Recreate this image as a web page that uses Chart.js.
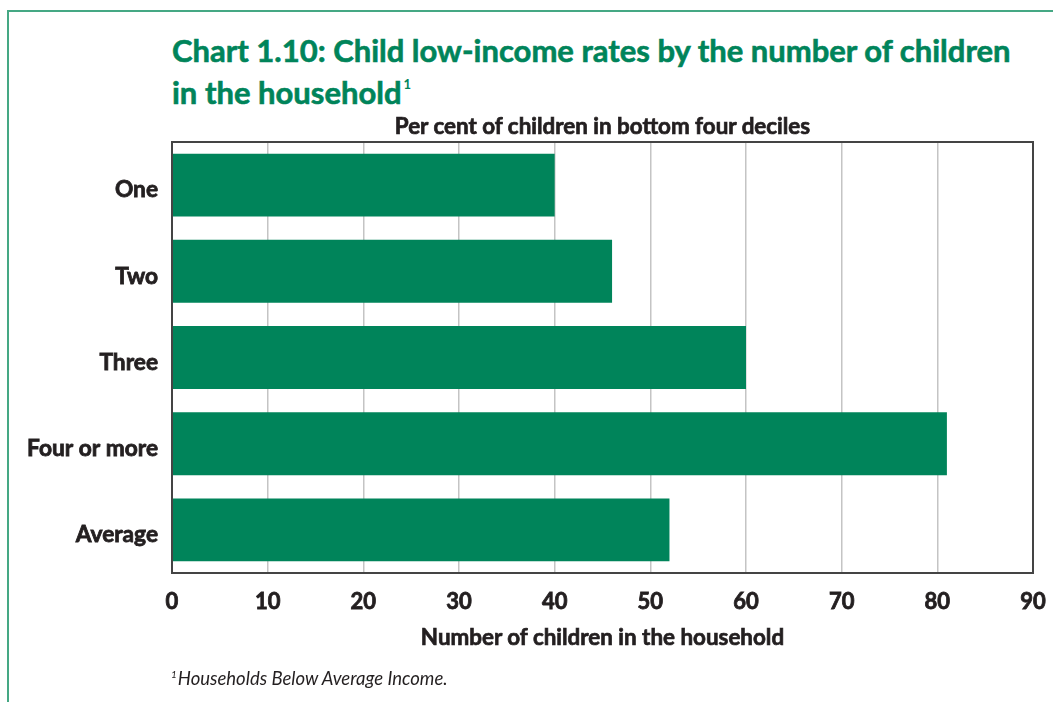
<!DOCTYPE html>
<html>
<head>
<meta charset="utf-8">
<script src="https://cdn.jsdelivr.net/npm/chart.js@4"></script>
<style>
  html, body { margin: 0; padding: 0; background: #ffffff; }
  #page { position: relative; width: 1053px; height: 702px; overflow: hidden; background: #fff; }
  #frame { position: absolute; left: 7px; top: 10px; width: 1100px; height: 760px;
           border-left: 2px solid #45a884; border-top: 2px solid #45a884; }
  .txt { position: absolute; font-family: Lato, "Open Sans", sans-serif; white-space: nowrap; margin: 0; }
  #title { left: 172px; top: 29px; font-weight: 700; font-size: 31px; line-height: 42px; color: #00845a;
           -webkit-text-stroke: 0.6px #00845a; }
  #title sup { font-size: 13px; vertical-align: 0; position: relative; top: -15px; margin-left: 2px;
               -webkit-text-stroke: 0; }
  .axis-title { left: 172px; width: 861px; text-align: center; font-weight: 700; font-size: 22.4px;
                line-height: 26px; color: #231f20; -webkit-text-stroke: 0.7px #231f20; }
  #valueTitle { top: 113px; }
  #categoryTitle { top: 624px; }
  #note { left: 171px; top: 667px; font-style: italic; font-size: 18.5px; color: #231f20; }
  #note sup { font-size: 10px; vertical-align: 0; position: relative; top: -7px; margin-right: 1px; }
  #wrap { position: absolute; left: 0; top: 0; width: 1053px; height: 702px; }
</style>
</head>
<body>
<div id="page">
  <div id="frame"></div>
  <div id="title" class="txt">Chart 1.10: Child low-income rates by the number of children<br>in the household<sup>1</sup></div>
  <div id="wrap"><canvas id="chart" width="1053" height="702"></canvas></div>
  <div id="valueTitle" class="txt axis-title"></div>
  <div id="categoryTitle" class="txt axis-title"></div>
  <div id="note" class="txt"><sup>1</sup>Households Below Average Income.</div>
</div>
<script>
// Share of children in the bottom four income deciles, by number of children in the household
const categories = ['One', 'Two', 'Three', 'Four or more', 'Average'];
const rates = [40, 46, 60, 81, 52];
const tickValues = [0, 10, 20, 30, 40, 50, 60, 70, 80, 90];

const valueTitle = 'Per cent of children in bottom four deciles';
const categoryTitle = 'Number of children in the household';
document.getElementById('valueTitle').textContent = valueTitle;
document.getElementById('categoryTitle').textContent = categoryTitle;

const ink = '#231f20';
const fontFamily = 'Lato, "Open Sans", sans-serif';

// Outline the whole plot area in dark grey
const plotFrame = {
  id: 'plotFrame',
  afterDatasetsDraw(chart) {
    const { ctx, chartArea: a } = chart;
    ctx.save();
    ctx.strokeStyle = '#444444';
    ctx.lineWidth = 2;
    ctx.strokeRect(a.left, a.top, a.right - a.left, a.bottom - a.top);
    ctx.restore();
  }
};

new Chart(document.getElementById('chart'), {
  type: 'bar',
  data: {
    labels: categories,
    datasets: [{
      data: rates,
      backgroundColor: '#00845a',
      borderWidth: 0,
      barPercentage: 0.73,
      categoryPercentage: 1.0
    }]
  },
  options: {
    indexAxis: 'y',
    responsive: false,
    animation: false,
    devicePixelRatio: 1,
    layout: { padding: { left: 0, right: 20, top: 142, bottom: 49 } },
    plugins: {
      legend: { display: false },
      tooltip: { enabled: false },
      title: { display: false }
    },
    scales: {
      x: {
        min: 0,
        max: 90,
        afterBuildTicks(scale) { scale.ticks = tickValues.map(v => ({ value: v })); },
        afterFit(scale) {
          scale.height = 80;
          scale.paddingLeft = 0;
          scale.paddingRight = 0;
        },
        grid: {
          color: (c) => (c.tick && (c.tick.value === 0 || c.tick.value === 90)) ? 'rgba(0,0,0,0)' : '#c4c4c4',
          lineWidth: 1.5,
          drawTicks: false
        },
        border: { display: false },
        ticks: {
          color: ink,
          padding: 16,
          textStrokeColor: ink,
          textStrokeWidth: 0.8,
          font: { family: fontFamily, size: 22, weight: 'bold' }
        }
      },
      y: {
        afterFit(scale) {
          scale.width = 172;
          scale.paddingTop = 0;
          scale.paddingBottom = 0;
        },
        grid: { display: false, drawTicks: false },
        border: { display: false },
        ticks: {
          color: ink,
          padding: 14,
          labelOffset: 5,
          textStrokeColor: ink,
          textStrokeWidth: 0.8,
          font: { family: fontFamily, size: 22.7, weight: 'bold' }
        }
      }
    }
  },
  plugins: [plotFrame]
});
</script>
</body>
</html>
